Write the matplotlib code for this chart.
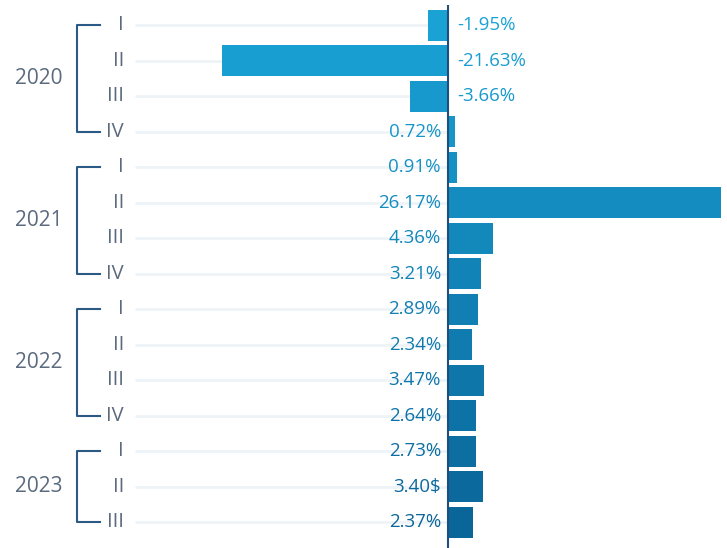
import matplotlib
matplotlib.use("Agg")
import matplotlib.pyplot as plt
import matplotlib.transforms as mtransforms
from matplotlib.colors import LinearSegmentedColormap
import numpy as np

years = ["2020", "2021", "2022", "2023"]
quarters = ["I", "II", "III", "IV", "I", "II", "III", "IV", "I", "II", "III", "IV", "I", "II", "III"]
values = [-1.95, -21.63, -3.66, 0.72, 0.91, 26.17, 4.36, 3.21, 2.89, 2.34, 3.47, 2.64, 2.73, 3.40, 2.37]
value_labels = ["-1.95%", "-21.63%", "-3.66%", "0.72%", "0.91%", "26.17%", "4.36%", "3.21%",
                "2.89%", "2.34%", "3.47%", "2.64%", "2.73%", "3.40$", "2.37%"]
year_rows = [(0, 3), (4, 7), (8, 11), (12, 14)]

plt.rcParams['font.family'] = ['Open Sans', 'DejaVu Sans']

W, H = 727, 548
fig = plt.figure(figsize=(W / 100, H / 100), dpi=100)
left_px, right_px, top_px = 135, 721, 5
ax = fig.add_axes([left_px / W, 0.0, (right_px - left_px) / W, 1 - top_px / H])

n = len(values)
y = np.arange(n)
cmap = LinearSegmentedColormap.from_list("b", ["#1aa2d5", "#0a6599"])
colors = [cmap(i / (n - 1)) for i in range(n)]

xmin, xmax = -30.0, 26.17
ax.set_xlim(xmin, xmax)
ax.set_ylim(14.72, -0.57)

for yi in y:
    ax.plot([xmin, 0], [yi, yi], color="#eef3f8", lw=2, zorder=0, solid_capstyle="butt")

ax.barh(y, values, height=0.87, color=colors, zorder=2)
ax.axvline(0, color="#1d4f7c", lw=1.5, zorder=3)

for yi, v, lab, c in zip(y, values, value_labels, colors):
    if v < 0:
        ax.annotate(lab, (0, yi), xytext=(9, 0), textcoords="offset pixels",
                    ha="left", va="center", fontsize=13.5, color=c, zorder=4)
    else:
        ax.annotate(lab, (0, yi), xytext=(-7, 0), textcoords="offset pixels",
                    ha="right", va="center", fontsize=13.5, color=c, zorder=4)

ax.set_axis_off()

tr = mtransforms.blended_transform_factory(fig.transFigure, ax.transData)
lab_color = "#5b6a7e"
br_color = "#2a5a85"
for yi, q in zip(y, quarters):
    fig.text(124 / W, yi, q, transform=tr, ha="right", va="center",
             fontsize=14.5, color=lab_color)

for yr, (a, b) in zip(years, year_rows):
    xs = [100 / W, 77 / W, 77 / W, 100 / W]
    ys = [a, a, b, b]
    fig.add_artist(plt.Line2D(xs, ys, transform=tr, color=br_color, lw=1.5))
    fig.text(39 / W, (a + b) / 2, yr, transform=tr, ha="center", va="center",
             fontsize=15, color=lab_color)

fig.savefig("out.png", dpi=100)
